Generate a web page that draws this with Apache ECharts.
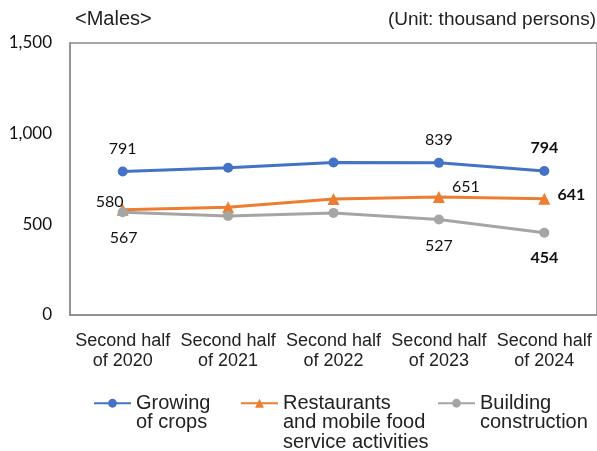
<!DOCTYPE html>
<html><head><meta charset="utf-8">
<script src="https://cdn.jsdelivr.net/npm/echarts@6/dist/echarts.min.js"></script>
<style>html,body{margin:0;padding:0;background:#fff}#c{width:597px;height:451px}</style>
</head><body><div id="c"></div>
<script>
const categories = ["Second half\nof 2020","Second half\nof 2021","Second half\nof 2022","Second half\nof 2023","Second half\nof 2024"];
const seriesNames = ["Growing of crops","Restaurants and mobile food service activities","Building construction"];
const legendLabels = [["Growing","of crops"],["Restaurants","and mobile food","service activities"],["Building","construction"]];
const crops = [791, 812, 841, 839, 794];
const restaurants = [580, 594, 640, 651, 641];
const construction = [567, 546, 563, 527, 454];
const yTicks = [0, 500, 1000, 1500];

const chart = echarts.init(document.getElementById('c'));
const numFont = 'Lato';
function lbl(offset, bold) {
  return {show:true, position:'inside', offset:offset, fontFamily:numFont, fontSize:16, color:'#111', fontWeight: bold?'bold':'normal'};
}
function mk(vals, labs) {
  return vals.map((v,i)=>({value:v, label: labs[i] || {show:false}}));
}
const colors = ['#4472C4','#ED7D31','#A5A5A5'];
const legendPos = [93, 240, 437];
const LH = 19.5;
const firstLineY = 403;
const legends = seriesNames.map((n,i)=>{
  const lines = legendLabels[i];
  const padded = Array(lines.length-1).fill('').concat(lines).join('\n');
  const blockH = (2*lines.length-1)*LH;
  return {
    left: legendPos[i], top: firstLineY - blockH/2, padding:0,
    itemWidth: 37, itemHeight: 11, itemGap: 0,
    data: [n],
    formatter: ()=>padded,
    textStyle:{fontFamily:'Liberation Sans', fontSize:20, color:'#222', lineHeight:LH}
  };
});
chart.setOption({
  animation:false,
  color: colors,
  grid:{left:70, right:-3, top:43, bottom:136, show:true, borderColor:'#8c8c8c', borderWidth:1.5},
  graphic:[
    {type:'text', left:75, top:9, style:{text:'<Males>', font:'20px "Liberation Sans"', fill:'#222'}},
    {type:'text', right:1, top:10, style:{text:'(Unit: thousand persons)', font:'19px "Liberation Sans"', fill:'#222'}}
  ],
  legend: legends,
  xAxis:{type:'category', data:categories, boundaryGap:true,
    axisLine:{show:true, lineStyle:{color:'#8c8c8c', width:1.5}}, axisTick:{show:false},
    axisLabel:{fontFamily:'Liberation Sans', fontSize:18, color:'#222', lineHeight:20, margin:16, interval:0}},
  yAxis:{type:'value', min:yTicks[0], max:yTicks[yTicks.length-1], interval:500,
    splitLine:{show:false}, axisLine:{show:true, lineStyle:{color:'#8c8c8c', width:1.5}}, axisTick:{show:false},
    axisLabel:{fontFamily:numFont, fontSize:17, color:'#111', margin:18,
      formatter:v=>v.toLocaleString('en-US')}},
  series:[
    {name:seriesNames[0], type:'line', symbol:'circle', symbolSize:10, lineStyle:{width:3},
     data: mk(crops, {0:lbl([0,-23]), 3:lbl([0,-23]), 4:lbl([0,-23],true)})},
    {name:seriesNames[1], type:'line', symbol:'triangle', symbolSize:12, lineStyle:{width:3},
     data: mk(restaurants, {0:lbl([-13,-8]), 3:lbl([27,-10]), 4:lbl([27,-4],true)})},
    {name:seriesNames[2], type:'line', symbol:'circle', symbolSize:10, lineStyle:{width:3},
     data: mk(construction, {0:lbl([1,26]), 3:lbl([0,26]), 4:lbl([0,25],true)})}
  ]
});
</script></body></html>
